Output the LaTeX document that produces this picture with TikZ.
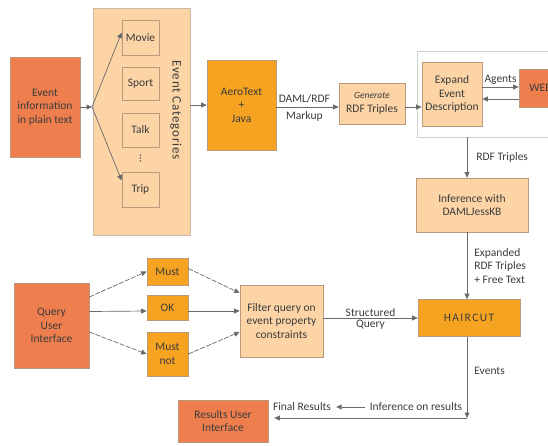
\documentclass[tikz,border=0pt]{standalone}
\usepackage{fontspec}
\setmainfont{Carlito}
\usetikzlibrary{arrows.meta,calc}
\definecolor{coral}{HTML}{EF7E4E}
\definecolor{amber}{HTML}{F5A320}
\definecolor{peach}{HTML}{FCD4A6}
\definecolor{boxline}{HTML}{B99A7A}
\definecolor{txt}{HTML}{3C3C3C}
\definecolor{wire}{HTML}{6A6A6A}
\begin{document}
\begin{tikzpicture}[x=1pt,y=-1pt,
  font=\fontsize{11.5}{13.5}\selectfont,
  box/.style={draw=boxline, line width=0.7pt, text=txt, align=center, inner sep=1pt},
  arr/.style={draw=wire, line width=0.7pt, -{Triangle[length=5.5pt,width=5pt]}},
  dsh/.style={arr, dash pattern=on 5pt off 1.5pt},
  lbl/.style={text=txt, inner sep=1pt, align=left}]
\useasboundingbox (0,0) rectangle (548,445);
\clip (0,0) rectangle (548,445);

% top row
\node[box, fill=coral, minimum width=70pt, minimum height=100pt] (evt) at (45,107) {Event\\information\\in plain text};
\node[box, fill=peach, draw=boxline!70, minimum width=97pt, minimum height=227pt] (cat) at (141.5,121.5) {};
\node[box, fill=peach, minimum width=37pt, minimum height=35pt] (movie) at (140.5,37.5) {Movie};
\node[box, fill=peach, minimum width=37pt, minimum height=33pt] (sport) at (140.5,83.5) {Sport};
\node[box, fill=peach, minimum width=37pt, minimum height=34pt] (talk) at (140.5,130) {Talk};
\node[box, fill=peach, minimum width=37pt, minimum height=35pt] (trip) at (140.5,189.5) {Trip};
\node[text=txt, inner sep=0pt] (dots) at (140.5,159) {\rotatebox{90}{\dots}};
\node[text=txt, rotate=-90, font=\fontsize{13}{15}\selectfont\addfontfeature{LetterSpace=6}] (catlbl) at (176,110) {Event Categories};

\node[box, fill=amber, minimum width=69pt, minimum height=90pt] (aero) at (241.5,105) {AeroText\\+\\Java};
\node[box, fill=peach, minimum width=66pt, minimum height=41pt] (gen) at (372,103.5) {{\itshape\fontsize{9.5}{11}\selectfont Generate}\\RDF Triples};

\node[draw=black!18, line width=0.6pt, minimum width=150pt, minimum height=86pt] (frame) at (492,94) {};
\node[box, fill=peach, minimum width=60pt, minimum height=64pt] (expand) at (452,94) {Expand\\Event\\Description};
\node[box, fill=coral, minimum width=43pt, minimum height=38pt] (web) at (540.5,88) {WEB};

\node[box, fill=peach, minimum width=112pt, minimum height=54pt] (infer) at (472,205) {Inference with\\DAMLJessKB};
\node[box, fill=amber, minimum width=102pt, minimum height=37pt, font=\fontsize{11.5}{13.5}\selectfont\addfontfeature{LetterSpace=12}] (haircut) at (469,318) {HAIRCUT};

% bottom left
\node[box, fill=coral, minimum width=75pt, minimum height=85pt] (query) at (51.5,325.5) {Query\\User\\Interface};
\node[box, fill=amber, minimum width=41pt, minimum height=27pt] (must) at (167.5,271.5) {Must};
\node[box, fill=amber, minimum width=41pt, minimum height=25pt] (ok) at (167.5,307.5) {OK};
\node[box, fill=amber, minimum width=41pt, minimum height=44pt] (mustnot) at (167.5,354) {Must\\not};
\node[box, fill=peach, minimum width=83pt, minimum height=72pt] (filter) at (281.5,321) {Filter query on\\event property\\constraints};
\node[box, fill=coral, minimum width=90pt, minimum height=42pt] (results) at (223,421) {Results User\\Interface};

% connectors top
\coordinate (br) at (92,107);
\draw[arr] (evt.east) -- (br);
\draw[arr] (br) -- ($(movie.west)+(0,-5)$);
\draw[arr] (br) -- ($(trip.west)+(0,-9)$);
\draw[arr] (cat.east |- aero.west) -- (aero.west);
\draw[arr] ($(aero.east)+(0,2)$) -- ($(gen.west)+(0,3.5)$)
  node[lbl, pos=0.45, above=3pt] {DAML/RDF}
  node[lbl, pos=0.45, below=3pt] {Markup};
\draw[arr] ($(gen.east)+(0,3.5)$) -- ($(expand.west)+(0,13)$);
\draw[arr] ($(expand.east)+(0,-7)$) -- ($(web.west)+(0,-1)$)
  node[lbl, midway, above=1pt] {Agents};
\draw[arr] ($(web.west)+(0,11)$) -- ($(expand.east)+(0,5)$);
\coordinate (fb) at (467,137);
\draw[arr] (fb) -- (fb |- infer.north)
  node[lbl, pos=0.5, right=8pt] {RDF Triples};
\draw[arr] (infer.south -| fb) -- (haircut.north -| fb)
  node[lbl, pos=0.5, right=6pt] {Expanded\\RDF Triples\\+ Free Text};

% connectors bottom
\draw[dsh] ($(query.east)+(0,-28.5)$) -- (must.west);
\draw[arr] ($(query.east)+(0,-14)$) -- ($(ok.west)+(0,3.5)$);
\draw[dsh] ($(query.east)+(0,6.5)$) -- (mustnot.west);
\draw[dsh] ($(must.east)+(0,-3)$) -- ($(filter.west)+(0,-28)$);
\draw[arr] ($(ok.east)+(0,3.5)$) -- ($(filter.west)+(0,-10)$);
\draw[dsh] (mustnot.east) -- ($(filter.west)+(0,11)$);
\draw[arr] (filter.east |- haircut.west) -- (haircut.west)
  node[lbl, midway, above=0.5pt] {Structured}
  node[lbl, midway, below=0.5pt] {Query};
\coordinate (corner) at (467,418);
\draw[arr] (haircut.south -| corner) -- (corner)
  node[lbl, pos=0.42, right=6pt] {Events};
\draw[arr, shorten >=6pt] (corner) -- (corner -| results.east);
\node[lbl] (infres) at (416,407) {Inference on results};
\node[lbl] (finres) at (302,407) {Final Results};
\draw[arr] (infres.west) ++(-4,0) coordinate (sa) -- ($(finres.east)+(4,0)$);
\end{tikzpicture}
\end{document}
